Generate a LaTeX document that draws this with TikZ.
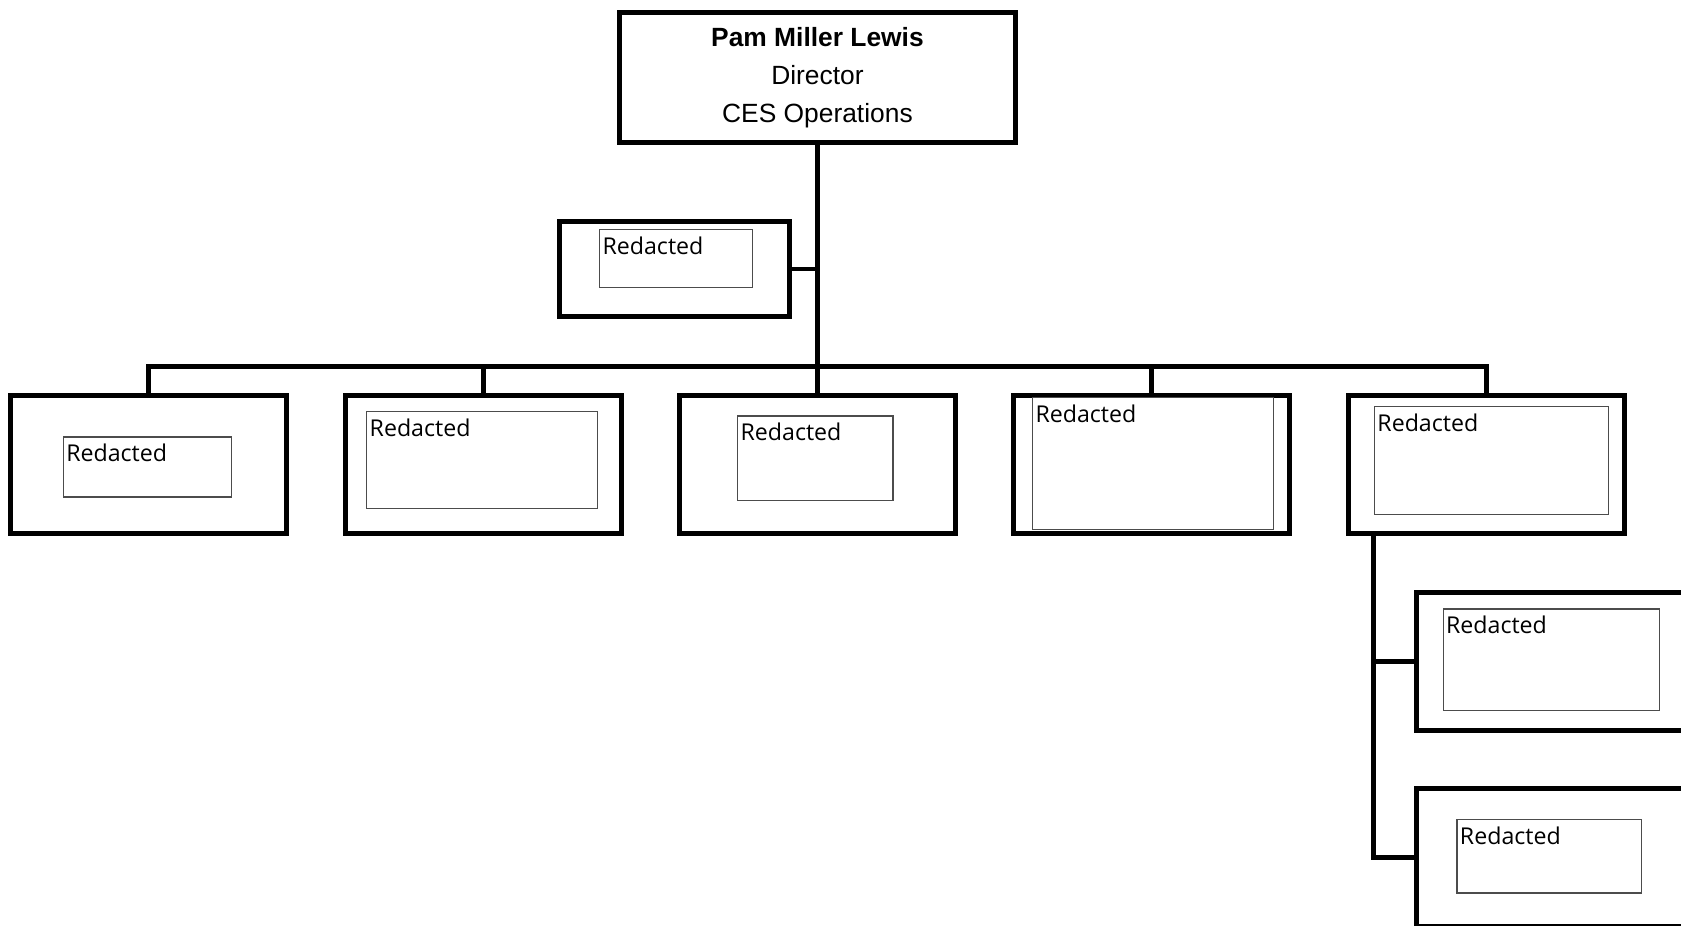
\documentclass[tikz,border=0pt]{standalone}
\usepackage{fontspec}
\setmainfont{Liberation Sans}
\newfontfamily\notefont{Open Sans}
\usepackage{tikz}
\usetikzlibrary{calc}

\begin{document}
\begin{tikzpicture}[x=0.02cm, y=-0.02cm,
        unit/.style={draw=black, line width=2.6pt, minimum width=5.16cm, minimum height=2.58cm, inner sep=0pt},
        note/.style={draw=black!70, line width=0.6pt, inner sep=0pt},
        redacted/.style={anchor=north west, inner xsep=1.7pt, inner ysep=4pt, font=\notefont\fontsize{12.3}{14}\selectfont},
        link/.style={line width=2.5pt}]

        \clip (0,0) rectangle (1568,863);

        %% Director
        \node (director) [draw=black, line width=2.6pt, minimum width=7.38cm, minimum height=2.42cm, align=center, font=\fontsize{14}{20.4}\selectfont] at (762.5,72.5) {\textbf{Pam Miller Lewis}\\ Director\\ CES Operations};

        %% Assistant
        \node (assist) [unit, minimum width=4.30cm, minimum height=1.78cm] at (629,251) {};
        \node (assistnote) [note, minimum width=2.85cm, minimum height=1.08cm] at (630.5,240.8) {};
        \node (assisttext) [redacted] at (assistnote.north west) {Redacted};

        %% Units
        \node (unitA) [unit] at (138.5,433) {};
        \node (unitB) [unit] at (451,433) {};
        \node (unitC) [unit] at (762.5,433) {};
        \node (unitD) [unit] at (1074,433) {};
        \node (unitE) [unit] at (1386.5,433) {};

        %% Sub units
        \node (subA) [unit] at (1450,617) {};
        \node (subB) [unit] at (1450,800) {};

        %% Notes
        \node (noteA) [note, minimum width=3.14cm, minimum height=1.12cm] at (137.5,435.6) {};
        \node (noteB) [note, minimum width=4.30cm, minimum height=1.80cm] at (449.5,429) {};
        \node (noteC) [note, minimum width=2.90cm, minimum height=1.58cm] at (760.5,427.5) {};
        \node (noteD) [note, minimum width=4.49cm, minimum height=2.46cm] at (1075.3,432) {};
        \node (noteE) [note, minimum width=4.36cm, minimum height=2.02cm] at (1391,429.5) {};
        \node (noteF) [note, minimum width=4.03cm, minimum height=1.90cm] at (1446.8,615.5) {};
        \node (noteG) [note, minimum width=3.44cm, minimum height=1.38cm] at (1445,798.5) {};

        \node (textA) [redacted] at (noteA.north west) {Redacted};
        \node (textB) [redacted] at (noteB.north west) {Redacted};
        \node (textC) [redacted] at (noteC.north west) {Redacted};
        \node (textD) [redacted] at (noteD.north west) {Redacted};
        \node (textE) [redacted] at (noteE.north west) {Redacted};
        \node (textF) [redacted] at (noteF.north west) {Redacted};
        \node (textG) [redacted] at (noteG.north west) {Redacted};

        %% Lines
        \coordinate (busA) at (138.5,342);
        \coordinate (busE) at (1386.5,342);
        \draw [link] (director.south) -- (unitC.north);
        \draw [link] (assist.east) -- (assist.east -| director.south);
        \draw [link] (unitA.north) -- (busA) -- (busE) -- (unitE.north);
        \draw [link] (unitB.north) -- (unitB.north |- busA);
        \draw [link] (unitD.north) -- (unitD.north |- busA);

        %% Sub branch
        \coordinate (subtop) at ($(unitE.south west) + (25.6,0)$);
        \draw [link] (subtop) |- (subB.west);
        \draw [link] (subtop |- subA.west) -- (subA.west);

    \end{tikzpicture}
\end{document}
